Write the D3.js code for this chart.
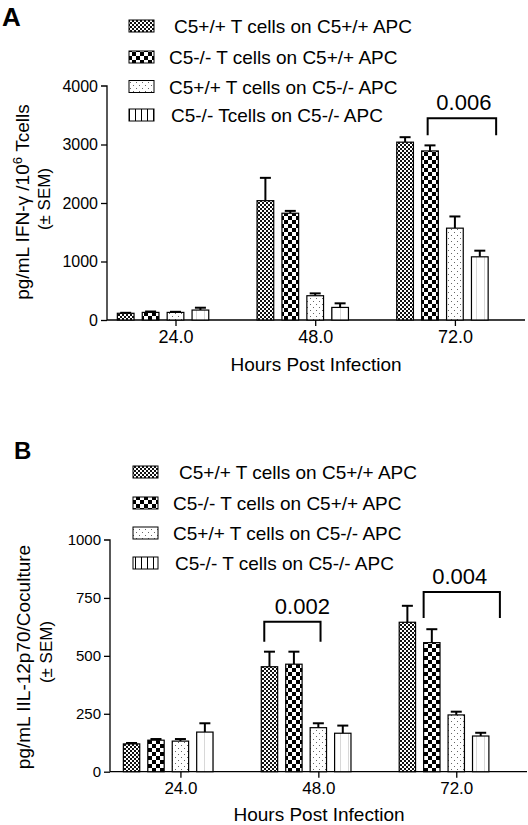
<!DOCTYPE html>
<html>
<head>
<meta charset="utf-8">
<script src="https://cdn.jsdelivr.net/npm/d3@7"></script>
<style>
  html, body { margin: 0; padding: 0; background: #fff; }
  svg { display: block; font-family: "Liberation Sans", Arial, sans-serif; }
</style>
</head>
<body>
<svg id="chart" width="528" height="825"></svg>
<script>
// ---------------- DATA ----------------
const categories = ["24.0", "48.0", "72.0"];

const seriesA = [
  "C5+/+ T cells on C5+/+ APC",
  "C5-/- T cells on C5+/+ APC",
  "C5+/+ T cells on C5-/- APC",
  "C5-/- Tcells on C5-/- APC"
];
const seriesB = [
  "C5+/+ T cells on C5+/+ APC",
  "C5-/- T cells on C5+/+ APC",
  "C5+/+ T cells on C5-/- APC",
  "C5-/- T cells on C5-/- APC"
];

// Panel A: IFN-gamma (pg/mL per 10^6 T cells), one row per series, columns = categories
const ifnMean = [
  [115, 2040, 3040],
  [130, 1825, 2890],
  [130, 415, 1570],
  [170, 215, 1080]
];
const ifnSem = [
  [8, 390, 85],
  [15, 40, 95],
  [10, 40, 200],
  [40, 70, 105]
];
const ifnTicks = [0, 1000, 2000, 3000, 4000];

// Panel B: IL-12p70 (pg/mL per coculture)
const il12Mean = [
  [120, 453, 645],
  [136, 464, 557],
  [132, 190, 245],
  [171, 166, 154]
];
const il12Sem = [
  [4, 65, 71],
  [5, 54, 58],
  [9, 19, 14],
  [38, 33, 14]
];
const il12Ticks = [0, 250, 500, 750, 1000];

// significance brackets: category, first series, last series, top value, label
const ifnBrackets = [{ cat: "72.0", from: 1, to: 3, top: 3450, label: "0.006" }];
const il12Brackets = [
  { cat: "48.0", from: 0, to: 2, top: 647, label: "0.002" },
  { cat: "72.0", from: 1, to: 3, top: 776, label: "0.004" }
];

// ---------------- PATTERNS ----------------
const svg = d3.select("#chart");
const defs = svg.append("defs");

function makePatterns(prefix, stripe) {
  // fine checker
  let p = defs.append("pattern").attr("id", prefix + "p0")
    .attr("patternUnits", "userSpaceOnUse").attr("width", 4).attr("height", 4);
  p.append("rect").attr("width", 4).attr("height", 4).attr("fill", "#fff");
  p.append("rect").attr("width", 2).attr("height", 2).attr("fill", "#111");
  p.append("rect").attr("x", 2).attr("y", 2).attr("width", 2).attr("height", 2).attr("fill", "#111");
  // coarse checker
  p = defs.append("pattern").attr("id", prefix + "p1")
    .attr("patternUnits", "userSpaceOnUse").attr("width", 8).attr("height", 8);
  p.append("rect").attr("width", 8).attr("height", 8).attr("fill", "#fff");
  p.append("rect").attr("width", 4).attr("height", 4).attr("fill", "#000");
  p.append("rect").attr("x", 4).attr("y", 4).attr("width", 4).attr("height", 4).attr("fill", "#000");
  // sparse dots
  p = defs.append("pattern").attr("id", prefix + "p2")
    .attr("patternUnits", "userSpaceOnUse").attr("width", 6).attr("height", 6);
  p.append("rect").attr("width", 6).attr("height", 6).attr("fill", "#fff");
  p.append("rect").attr("x", 1).attr("y", 1).attr("width", 1).attr("height", 1).attr("fill", "#666");
  p.append("rect").attr("x", 4).attr("y", 4).attr("width", 1).attr("height", 1).attr("fill", "#666");
  // vertical stripes
  p = defs.append("pattern").attr("id", prefix + "p3")
    .attr("patternUnits", "userSpaceOnUse").attr("width", stripe.w).attr("height", 8);
  p.append("rect").attr("width", stripe.w).attr("height", 8).attr("fill", "#fff");
  p.append("rect").attr("x", stripe.w / 2).attr("width", 1).attr("height", 8).attr("fill", stripe.c);
}
makePatterns("bar", { w: 8, c: "#d8d8d8" });
makePatterns("leg", { w: 6, c: "#000" });

// ---------------- PANEL DRAWER ----------------
function drawPanel(cfg) {
  const g = svg.append("g");

  const y = d3.scaleLinear().domain([0, cfg.ticks[cfg.ticks.length - 1]])
    .range([cfg.y0, cfg.yTop]);

  const x0 = d3.scaleBand().domain(categories).range(cfg.groupRange)
    .paddingInner(0).paddingOuter(0);
  const step = x0.bandwidth();
  const x1 = d3.scaleBand().domain(d3.range(cfg.series.length))
    .range([(step - cfg.groupWidth) / 2, (step + cfg.groupWidth) / 2])
    .paddingInner(0.33);
  const bw = x1.bandwidth();

  // y axis
  const ya = g.append("g").attr("transform", `translate(${cfg.axisX},0)`)
    .call(d3.axisLeft(y).tickValues(cfg.ticks).tickFormat(d3.format("d"))
      .tickSize(6).tickPadding(3));
  ya.select(".domain").attr("d", `M-6,${cfg.yTop}H0V${cfg.y0}`).attr("stroke-width", 1.3);
  ya.selectAll(".tick line").attr("stroke-width", 1.3);
  ya.selectAll("text").attr("font-size", cfg.yTickFont).attr("fill", "#000")
    .attr("font-family", "Liberation Sans, Arial, sans-serif");
  ya.selectAll(".tick").filter(d => d === cfg.ticks[cfg.ticks.length - 1]).select("line").remove();

  // x axis (ticks sit under the third bar of each group, as in the original)
  const xTick = d3.scalePoint().domain(categories)
    .range([x0(categories[0]) + x1(2) + bw / 2, x0(categories[2]) + x1(2) + bw / 2]);
  const xa = g.append("g").attr("transform", `translate(0,${cfg.y0})`)
    .call(d3.axisBottom(xTick).tickSize(6).tickPadding(4));
  xa.select(".domain").attr("d", `M${cfg.axisX},0H${cfg.axisRight}`).attr("stroke-width", 1.3);
  xa.selectAll(".tick line").attr("stroke-width", 1.3);
  xa.selectAll("text").attr("font-size", cfg.xTickFont).attr("fill", "#000")
    .attr("font-family", "Liberation Sans, Arial, sans-serif");

  // bars
  const rows = [];
  cfg.series.forEach((s, si) => categories.forEach((c, ci) =>
    rows.push({ si, c, v: cfg.mean[si][ci], e: cfg.sem[si][ci] })));

  const bx = d => x0(d.c) + x1(d.si);

  // error bars (upper whisker only)
  const eb = g.append("g").attr("stroke", "#000").attr("stroke-width", 2);
  eb.selectAll("line.v").data(rows).join("line").attr("class", "v")
    .attr("x1", d => bx(d) + bw / 2).attr("x2", d => bx(d) + bw / 2)
    .attr("y1", d => y(d.v)).attr("y2", d => y(d.v + d.e));
  eb.selectAll("line.c").data(rows).join("line").attr("class", "c")
    .attr("x1", d => bx(d) + bw / 2 - 5.5).attr("x2", d => bx(d) + bw / 2 + 5.5)
    .attr("y1", d => y(d.v + d.e)).attr("y2", d => y(d.v + d.e));

  g.append("g").selectAll("rect").data(rows).join("rect")
    .attr("x", bx).attr("width", bw)
    .attr("y", d => y(d.v)).attr("height", d => y(0) - y(d.v))
    .attr("fill", d => `url(#barp${d.si})`)
    .attr("stroke", "#000").attr("stroke-width", 1.2);

  // brackets
  cfg.brackets.forEach(b => {
    const xl = x0(b.cat) + x1(b.from) + cfg.bracketDx[b.label][0];
    const xr = x0(b.cat) + x1(b.to) + bw + cfg.bracketDx[b.label][1];
    const yt = y(b.top);
    const yb = yt + cfg.bracketDrop[b.label];
    g.append("path").attr("d", `M${xl},${yb}V${yt}H${xr}V${yb}`)
      .attr("fill", "none").attr("stroke", "#000").attr("stroke-width", 2);
    g.append("text").attr("x", (xl + xr) / 2 + cfg.bracketDx[b.label][2]).attr("y", yt - 8)
      .attr("text-anchor", "middle").attr("font-size", 22).text(b.label);
  });

  // legend
  const lg = g.append("g");
  cfg.series.forEach((s, si) => {
    const cy = cfg.legendY[si];
    lg.append("rect").attr("x", cfg.legendX).attr("y", cy - 6)
      .attr("width", 25).attr("height", 12)
      .attr("fill", `url(#legp${si})`).attr("stroke", "#000").attr("stroke-width", 1);
    lg.append("text").attr("x", cfg.legendTextX[si]).attr("y", cy + 7)
      .attr("font-size", 19).text(s);
  });

  // axis titles
  g.append("text").attr("x", cfg.xTitleX).attr("y", cfg.xTitleY)
    .attr("text-anchor", "middle").attr("font-size", 19).text("Hours Post Infection");

  const t1 = g.append("text").attr("transform", `translate(${cfg.yTitleX[0]},${cfg.yTitleCY[0]}) rotate(-90)`)
    .attr("text-anchor", "middle").attr("font-size", 19);
  cfg.yTitle(t1);
  g.append("text").attr("transform", `translate(${cfg.yTitleX[1]},${cfg.yTitleCY[1]}) rotate(-90)`)
    .attr("text-anchor", "middle").attr("font-size", 17).text("(± SEM)");

  // panel letter
  g.append("text").attr("x", cfg.letterX).attr("y", cfg.letterY)
    .attr("font-size", cfg.letterSize).attr("font-weight", "bold").text(cfg.letter);
}

drawPanel({
  letter: "A", letterX: 2, letterY: 26, letterSize: 26,
  series: seriesA, mean: ifnMean, sem: ifnSem, ticks: ifnTicks, brackets: ifnBrackets,
  y0: 320, yTop: 86, axisX: 107, axisRight: 525,
  groupRange: [93.2, 512.3], groupWidth: 91.4,
  yTickFont: 16, xTickFont: 18,
  bracketDx: { "0.006": [6, 8, 2] }, bracketDrop: { "0.006": 17 },
  legendX: 129, legendY: [26, 57, 86.5, 115],
  legendTextX: [174, 169, 169, 171],
  xTitleX: 316, xTitleY: 371,
  yTitleX: [29, 50], yTitleCY: [202, 199],
  yTitle: t => {
    t.append("tspan").text("pg/mL IFN-γ /10");
    t.append("tspan").attr("dy", -7).attr("font-size", 13).text("6");
    t.append("tspan").attr("dy", 7).text(" Tcells");
  }
});

drawPanel({
  letter: "B", letterX: 14, letterY: 459, letterSize: 24,
  series: seriesB, mean: il12Mean, sem: il12Sem, ticks: il12Ticks, brackets: il12Brackets,
  y0: 771.7, yTop: 540, axisX: 110, axisRight: 527,
  groupRange: [99.25, 513], groupWidth: 89.7,
  yTickFont: 15, xTickFont: 17,
  bracketDx: { "0.002": [3, -6, 10], "0.004": [0, 11, -2] },
  bracketDrop: { "0.002": 20, "0.004": 26 },
  legendX: 133, legendY: [472, 503, 533, 563],
  legendTextX: [179, 173, 173, 175],
  xTitleX: 319, xTitleY: 821,
  yTitleX: [29.5, 52], yTitleCY: [657, 652],
  yTitle: t => t.text("pg/mL IIL-12p70/Coculture")
});
</script>
</body>
</html>
